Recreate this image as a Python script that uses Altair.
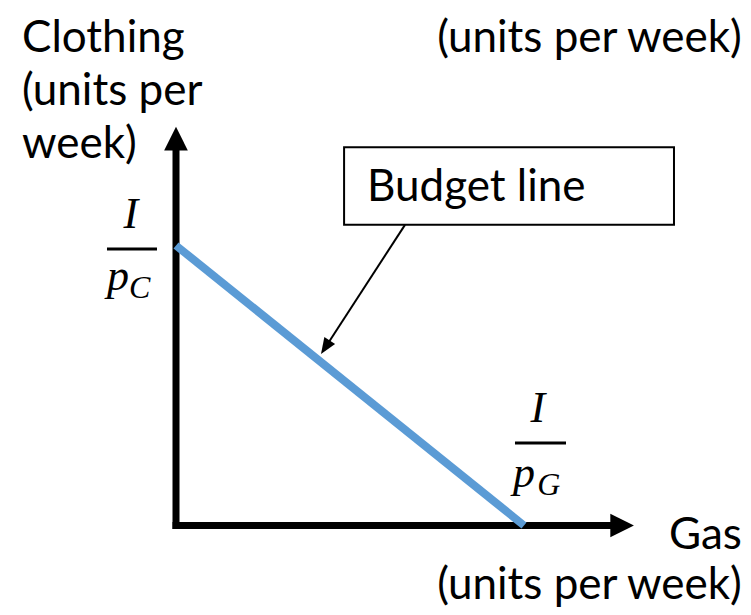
import altair as alt
import pandas as pd

# ---------------- data (economic units) ----------------
I_over_pG = 10.0          # gas intercept  I/p_G
I_over_pC = 8.0           # clothing intercept I/p_C
budget_gas = [0.0, I_over_pG]
budget_clothing = [I_over_pC, 0.0]

axis_tip_gas = 13.16       # where the horizontal axis arrow ends
axis_tip_clothing = 11.39  # where the vertical axis arrow ends

y_title_lines = ["Clothing", "(units per", "week)"]
x_title_lines = ["Gas", "(units per week)"]
top_right_text = "(units per week)"
callout_text = "Budget line"
frac_num = "I"
frac_den = "p"
frac_sub = ["C", "G"]

# ---------------- layout ----------------
W, H = 735, 599
PX_X, PX_Y = 34.8, 35.0          # pixels per unit
OX, OY = 168.0, 517.5             # origin in chart pixels
XD = [-OX / PX_X, (W - OX) / PX_X]
YD = [-(H - OY) / PX_Y, OY / PX_Y]

xs = alt.Scale(domain=XD, nice=False, zero=False)
ys = alt.Scale(domain=YD, nice=False, zero=False)


def enc(df_has_x2=False):
    e = dict(x=alt.X("x:Q", scale=xs, axis=None), y=alt.Y("y:Q", scale=ys, axis=None))
    if df_has_x2:
        e["x2"] = alt.X2("x2:Q")
        e["y2"] = alt.Y2("y2:Q")
    return e


SANS = "Lato"
SERIF = "Liberation Serif"
FS = 44

layers = []

# callout box
box = pd.DataFrame({"x": [4.83], "x2": [14.31], "y": [10.81], "y2": [8.59]})
layers.append(alt.Chart(box).mark_rect(fill="white", stroke="black", strokeWidth=2).encode(**enc(True)))

# axes shafts
ax = pd.DataFrame({
    "x": [-0.1, 0.0],
    "y": [0.0, -0.1],
    "x2": [axis_tip_gas - 0.5, 0.0],
    "y2": [0.0, axis_tip_clothing - 0.5],
})
layers.append(alt.Chart(ax).mark_rule(color="black", strokeWidth=7, strokeCap="butt").encode(**enc(True)))

# arrow heads
ah_y = pd.DataFrame({"x": [0.0], "y": [axis_tip_clothing]})
layers.append(alt.Chart(ah_y).mark_point(shape="M0,0L-1,2L1,2Z", size=560, filled=True, color="black",
                                           opacity=1, strokeWidth=0).encode(**enc()))
ah_x = pd.DataFrame({"x": [axis_tip_gas], "y": [0.0]})
layers.append(alt.Chart(ah_x).mark_point(shape="M0,0L-2,-1L-2,1Z", size=560, filled=True, color="black",
                                           opacity=1, strokeWidth=0).encode(**enc()))

# budget line
bl = pd.DataFrame({"x": budget_gas, "y": budget_clothing})
layers.append(alt.Chart(bl).mark_line(color="#5B9BD5", strokeWidth=8, strokeCap="butt").encode(**enc()))

# callout leader + head
ld = pd.DataFrame({"x": [6.58], "y": [8.59], "x2": [4.3], "y2": [5.1]})
layers.append(alt.Chart(ld).mark_rule(color="black", strokeWidth=2).encode(**enc(True)))
lh = pd.DataFrame({"x": [4.167], "y": [4.9]})
layers.append(alt.Chart(lh).mark_point(shape="M0,0L-0.8,2L0.8,2Z", size=256, filled=True, color="black",
                                         opacity=1, strokeWidth=0, angle=213).encode(**enc()))

# fraction bars
fb = pd.DataFrame({"x": [-1.983, 9.741], "x2": [-0.546, 11.207], "y": [7.9, 2.357], "y2": [7.9, 2.357]})
layers.append(alt.Chart(fb).mark_rule(color="black", strokeWidth=3).encode(**enc(True)))

# texts: sans left
tl = pd.DataFrame({
    "t": y_title_lines + [callout_text],
    "x": [-4.425, -4.425, -4.425, 5.489],
    "y": [13.529, 12.014, 10.5, 9.271],
})
layers.append(alt.Chart(tl).mark_text(align="left", baseline="alphabetic", font=SANS, fontSize=FS,
                                        color="black").encode(text="t:N", **enc()))
# sans right
tr = pd.DataFrame({
    "t": [top_right_text] + x_title_lines,
    "x": [16.26, 16.26, 16.26],
    "y": [13.529, -0.671, -2.1],
})
layers.append(alt.Chart(tr).mark_text(align="right", baseline="alphabetic", font=SANS, fontSize=FS,
                                        color="black").encode(text="t:N", **enc()))
# numerators
nm = pd.DataFrame({"t": [frac_num, frac_num], "x": [-1.30, 10.40], "y": [8.5, 2.957]})
layers.append(alt.Chart(nm).mark_text(align="center", baseline="alphabetic", font=SERIF, fontSize=44,
                                        fontStyle="italic", color="black").encode(text="t:N", **enc()))
# denominators
dn = pd.DataFrame({"t": [frac_den, frac_den], "x": [-1.983, 9.684], "y": [6.729, 1.1]})
layers.append(alt.Chart(dn).mark_text(align="left", baseline="alphabetic", font=SERIF, fontSize=44,
                                        fontStyle="italic", color="black").encode(text="t:N", **enc()))
sb = pd.DataFrame({"t": frac_sub, "x": [-1.35, 10.38], "y": [6.5, 0.871]})
layers.append(alt.Chart(sb).mark_text(align="left", baseline="alphabetic", font=SERIF, fontSize=32,
                                        fontStyle="italic", color="black").encode(text="t:N", **enc()))

chart = alt.layer(*layers).properties(
    width=W, height=H, autosize=alt.AutoSizeParams(type="none"), padding=0
).configure_view(stroke=None)

chart.save("out.html", embed_options={"renderer": "svg", "actions": False})
